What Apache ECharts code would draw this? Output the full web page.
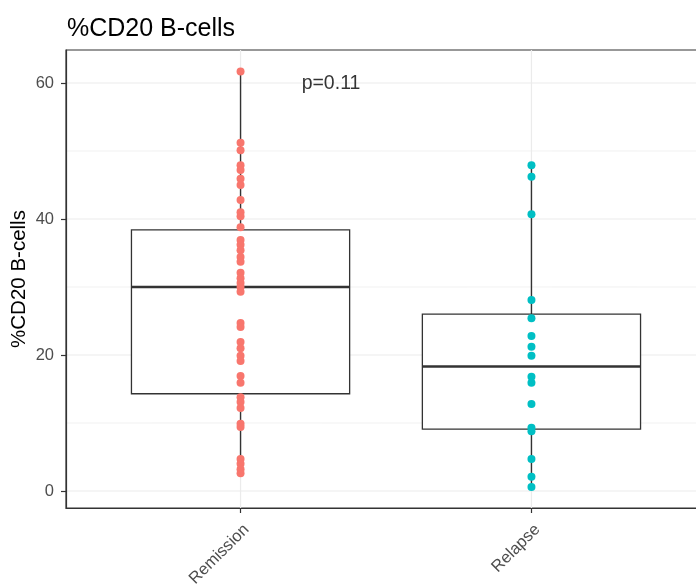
<!DOCTYPE html>
<html>
<head>
<meta charset="utf-8">
<script src="https://cdn.jsdelivr.net/npm/echarts@6/dist/echarts.min.js"></script>
<style>
  html, body { margin: 0; padding: 0; background: #fff; }
  #chart { width: 696px; height: 585px; }
</style>
</head>
<body>
<div id="chart"></div>
<script>
// Groups on the x axis
const categories = ['Remission', 'Relapse'];

// Individual %CD20 B-cell measurements per group
const remissionValues = [
  61.7, 51.2, 50.1, 47.9, 47.2, 45.9, 45.0, 42.8, 41.0, 40.4,
  38.8, 36.9, 36.2, 35.4, 34.4, 33.7, 32.1, 31.3, 30.6, 30.0,
  29.3, 24.7, 24.1, 21.9, 21.0, 19.9, 19.1, 16.9, 15.9, 13.8,
  13.1, 12.2, 9.9, 9.4, 4.7, 4.0, 3.2, 2.6
];
const relapseValues = [
  47.9, 46.2, 40.7, 28.1, 25.4, 22.8, 21.2, 19.9, 16.8, 15.9,
  12.8, 9.3, 8.8, 4.7, 2.1, 0.6
];

// Box summaries: [lower whisker, Q1, median, Q3, upper whisker]
const remissionBox = [2.6, 14.3, 30.0, 38.4, 61.7];
const relapseBox = [0.6, 9.1, 18.3, 26.0, 47.9];

// Axis breaks
const yTicks = [0, 20, 40, 60];
const yMinorTicks = [10, 30, 50];
const xTicks = [1, 2];

// Test annotation
const pValueText = 'p=0.11';
const pValueAt = [1.21, 59.9];

const FONT = '"Liberation Sans", Arial, "DejaVu Sans", sans-serif';
const groupColors = ['#F8766D', '#00BFC4'];

const chart = echarts.init(document.getElementById('chart'), null, { renderer: 'canvas' });

// Panel grid: [axis ('x' | 'y'), value, major (1) / minor (0)]
const gridLineData = []
  .concat(yMinorTicks.map(v => ['y', v, 0]))
  .concat(yTicks.map(v => ['y', v, 1]))
  .concat(xTicks.map(v => ['x', v, 1]));

function renderGridLine(params, api) {
  const item = gridLineData[params.dataIndex];
  const cs = params.coordSys;
  let shape;
  if (item[0] === 'y') {
    const y = api.coord([1, item[1]])[1];
    shape = { x1: cs.x, y1: y, x2: cs.x + cs.width, y2: y };
  } else {
    const x = api.coord([item[1], 0])[0];
    shape = { x1: x, y1: cs.y, x2: x, y2: cs.y + cs.height };
  }
  return {
    type: 'line',
    shape,
    style: { stroke: '#EBEBEB', lineWidth: item[2] ? 1.2 : 0.7 }
  };
}

function renderBox(params, api) {
  const x = api.value(0);
  const pt = v => api.coord([x, v]);
  const cx = pt(api.value(1))[0];
  const yMin = pt(api.value(1))[1];
  const yQ1 = pt(api.value(2))[1];
  const yMed = pt(api.value(3))[1];
  const yQ3 = pt(api.value(4))[1];
  const yMax = pt(api.value(5))[1];
  const half = api.size([0.75, 0])[0] / 2;
  const stroke = '#333333';
  return {
    type: 'group',
    children: [
      { type: 'line', shape: { x1: cx, y1: yQ3, x2: cx, y2: yMax }, style: { stroke, lineWidth: 1.4 } },
      { type: 'line', shape: { x1: cx, y1: yQ1, x2: cx, y2: yMin }, style: { stroke, lineWidth: 1.4 } },
      { type: 'rect', shape: { x: cx - half, y: yQ3, width: 2 * half, height: yQ1 - yQ3 },
        style: { fill: '#ffffff', stroke, lineWidth: 1.3 } },
      { type: 'line', shape: { x1: cx - half, y1: yMed, x2: cx + half, y2: yMed }, style: { stroke, lineWidth: 2.6 } }
    ]
  };
}

const option = {
  animation: false,
  backgroundColor: '#ffffff',
  title: {
    text: '%CD20 B-cells',
    left: 62,
    top: 12,
    textStyle: { fontFamily: FONT, fontSize: 25, fontWeight: 'normal', color: '#000000' }
  },
  grid: {
    left: 66, top: 50, width: 640, height: 458,
    containLabel: false,
    outerBoundsMode: 'none',
    show: true, borderColor: '#333333', borderWidth: 1.2, backgroundColor: 'transparent'
  },
  xAxis: {
    type: 'value',
    min: 0.4,
    max: 2.6,
    splitLine: { show: false },
    axisLine: { show: true, onZero: false, lineStyle: { color: '#333333', width: 1.2 } },
    axisTick: { show: true, customValues: xTicks, length: 5, lineStyle: { color: '#333333', width: 1.2 } },
    axisLabel: {
      customValues: xTicks,
      formatter: v => categories[Math.round(v) - 1] || '',
      rotate: 45,
      margin: 13,
      verticalAlign: 'top',
      color: '#4D4D4D',
      fontFamily: FONT,
      fontSize: 16.5
    }
  },
  yAxis: {
    type: 'value',
    min: -2.5,
    max: 64.85,
    name: '%CD20 B-cells',
    nameLocation: 'middle',
    nameRotate: 90,
    nameGap: 36,
    nameMoveOverlap: false,
    nameTextStyle: { fontFamily: FONT, fontSize: 20.5, color: '#000000' },
    splitLine: { show: false },
    axisLine: { show: true, onZero: false, lineStyle: { color: '#333333', width: 1.2 } },
    axisTick: { show: true, customValues: yTicks, length: 5, lineStyle: { color: '#333333', width: 1.2 } },
    axisLabel: {
      customValues: yTicks,
      margin: 12,
      color: '#4D4D4D',
      fontFamily: FONT,
      fontSize: 16.5
    }
  },
  series: [
    {
      name: 'gridlines',
      type: 'custom',
      z: 0,
      silent: true,
      renderItem: renderGridLine,
      encode: { x: 1, y: 1 },
      data: gridLineData.map((d, i) => [i, 0])
    },
    {
      name: 'boxes',
      type: 'custom',
      z: 2,
      renderItem: renderBox,
      encode: { x: 0, y: [1, 2, 3, 4, 5] },
      data: [[1].concat(remissionBox), [2].concat(relapseBox)]
    },
    {
      name: categories[0],
      type: 'scatter',
      z: 3,
      symbolSize: 8,
      itemStyle: { color: groupColors[0], opacity: 1 },
      data: remissionValues.map(v => [1, v])
    },
    {
      name: categories[1],
      type: 'scatter',
      z: 3,
      symbolSize: 8,
      itemStyle: { color: groupColors[1], opacity: 1 },
      data: relapseValues.map(v => [2, v])
    },
    {
      name: 'p-value',
      type: 'scatter',
      z: 4,
      symbolSize: 0,
      silent: true,
      data: [pValueAt],
      label: {
        show: true,
        formatter: pValueText,
        position: 'right',
        distance: 0,
        color: '#000000',
        fontFamily: FONT,
        fontSize: 19.5
      }
    }
  ]
};

chart.setOption(option);
</script>
</body>
</html>
